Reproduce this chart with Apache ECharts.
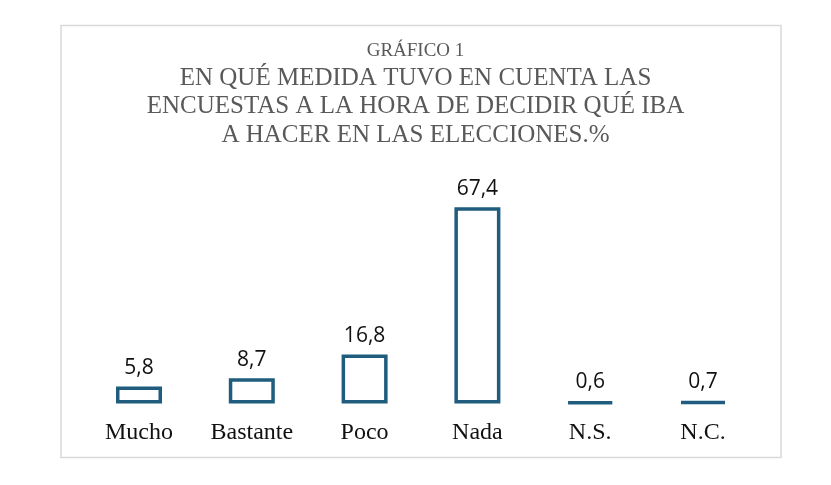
<!DOCTYPE html>
<html>
<head>
<meta charset="utf-8">
<script src="https://cdn.jsdelivr.net/npm/echarts@6/dist/echarts.min.js"></script>
<style>
  html, body { margin: 0; padding: 0; background: #fff; }
  #chart { width: 831px; height: 485px; }
</style>
</head>
<body>
<div id="chart"></div>
<script>
// datos del gráfico
const categorias = ['Mucho', 'Bastante', 'Poco', 'Nada', 'N.S.', 'N.C.']
const valores = [5.8, 8.7, 16.8, 67.4, 0.6, 0.7]
const titulo = 'GRÁFICO 1'
const subtitulo = ['EN QUÉ MEDIDA TUVO EN CUENTA LAS', 'ENCUESTAS A LA HORA DE DECIDIR QUÉ IBA', 'A HACER EN LAS ELECCIONES.%']

const azul = '#1F5C7D'
const serif = '"Liberation Serif", "DejaVu Serif", serif'

var chart = echarts.init(document.getElementById('chart'), null, { renderer: 'canvas' })

const option = {
  backgroundColor: '#fff',
  animation: false,
  graphic: [{
    type: 'rect',
    shape: { x: 61, y: 25.5, width: 720, height: 432 },
    style: { fill: 'none', stroke: '#d9d9d9', lineWidth: 1.5 },
    z: -1
  }],
  title: [{
    text: titulo,
    left: 'center',
    top: 37,
    textStyle: { fontFamily: serif, fontSize: 19, fontWeight: 'normal', color: '#595959' }
  }, {
    text: subtitulo.join('\n'),
    left: 'center',
    top: 59,
    textStyle: { fontFamily: serif, fontSize: 25, fontWeight: 'normal', color: '#595959', lineHeight: 28.5 }
  }],
  grid: { left: 82.6, right: 71.6, top: 170.5, bottom: 81.5 },
  xAxis: {
    type: 'category',
    data: categorias,
    axisLine: { show: false },
    axisTick: { show: false },
    axisLabel: { fontFamily: serif, fontSize: 24, color: '#111', margin: 17 }
  },
  yAxis: {
    type: 'value',
    min: 0,
    max: 80,
    show: false,
    splitLine: { show: false }
  },
  series: [{
    type: 'bar',
    data: valores,
    barWidth: 46,
    itemStyle: { color: '#fff', borderColor: azul, borderWidth: 3.5 },
    label: {
      show: true,
      position: 'top',
      distance: 8,
      fontFamily: '"Open Sans", "Liberation Sans", sans-serif',
      fontSize: 21,
      color: '#111',
      formatter: p => String(p.value).replace('.', ',')
    }
  }]
}

chart.setOption(option)
</script>
</body>
</html>
